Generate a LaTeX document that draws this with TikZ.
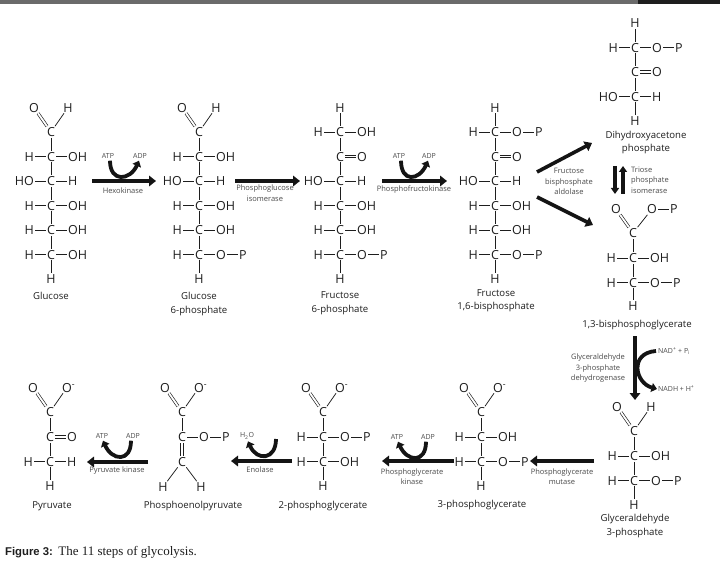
\documentclass[tikz,border=0pt]{standalone}
\usepackage{fontspec}
\setmainfont{Open Sans}
\newfontfamily\capsans{Liberation Sans}
\newfontfamily\capserif{Liberation Serif}
\usetikzlibrary{arrows.meta,calc}
\definecolor{txt}{HTML}{1E1E1E}
\definecolor{enzc}{HTML}{4A4A4A}
\definecolor{barg}{HTML}{6B6B6B}
\definecolor{bard}{HTML}{1E1E1E}
\tikzset{
 atm/.style={font=\fontsize{12.5}{14}\selectfont, text=txt, inner xsep=1.2pt, inner ysep=1pt, text height=9.2pt, text depth=0pt},
 bond/.style={line width=0.75pt, draw=txt},
 dbond/.style={double, double distance=1.8pt, line width=0.65pt, draw=txt},
 mlab/.style={font=\fontsize{9.6}{13.5}\selectfont, text=txt, align=center, inner sep=0pt},
 enz/.style={font=\fontsize{7.5}{10.5}\selectfont, text=enzc, align=center, inner sep=0pt},
 cof/.style={font=\fontsize{7}{8}\selectfont, text=enzc, inner sep=0pt},
 bigarr/.style={line width=4pt, draw=black!92, -{Triangle[length=7pt,width=10.5pt]}},
 curarr/.style={line width=3.8pt, draw=black!92, -{Triangle[length=5.5pt,width=9pt]}},
}
\newcommand\crow[5]{%
  \node[atm] (#1) at (#2,#3) {C};
  \if\relax\detokenize{#4}\relax\else
    \node[atm,anchor=east] (#1l) at ([xshift=-10.4pt]#1.west) {#4};
    \draw[bond] (#1l) -- (#1);
  \fi
  \if\relax\detokenize{#5}\relax\else
    \node[atm,anchor=west] (#1r) at ([xshift=10.4pt]#1.east) {#5};
    \draw[bond] (#1) -- (#1r);
  \fi}
\newcommand\crowP[4]{%
  \crow{#1}{#2}{#3}{#4}{O}
  \node[atm,anchor=west] (#1p) at ([xshift=10.4pt]#1r.east) {P};
  \draw[bond] (#1r) -- (#1p);}
\newcommand\crowD[3]{%
  \node[atm] (#1) at (#2,#3) {C};
  \node[atm,anchor=west] (#1r) at ([xshift=10.4pt]#1.east) {O};
  \draw[dbond] (#1) -- (#1r);}
\newcommand\topgrp[4]{%
  \node[atm] (#1) at (#2,#3) {C};
  \node[atm] (#1o) at ($(#1)+(-17,-24.5)$) {O};
  \node[atm] (#1h) at ($(#1)+(17,-24.5)$) {#4};
  \draw[dbond] (#1o) -- (#1);
  \draw[bond] (#1h) -- (#1);}
\newcommand\Om{O\rlap{\textsuperscript{-}}}
\begin{document}
\begin{tikzpicture}[x=1pt,y=-1pt]
\useasboundingbox (0,0) rectangle (720,569);
\fill[white] (0,0) rectangle (720,569);
\fill[barg] (0,0) rectangle (638,4);
\fill[bard] (638,0) rectangle (720,4);

% ---------- Glucose
\topgrp{ga}{51}{132}{H}
\crow{gb}{51}{156.5}{H}{OH}
\crow{gc}{51}{181}{HO}{H}
\crow{gd}{51}{205.5}{H}{OH}
\crow{ge}{51}{230}{H}{OH}
\crow{gf}{51}{254.5}{H}{OH}
\node[atm] (gh) at (51,279) {H};
\foreach \a/\b in {ga/gb,gb/gc,gc/gd,gd/ge,ge/gf,gf/gh} \draw[bond] (\a)--(\b);
\node[mlab] (glab) at (51,296) {Glucose};

% ---------- Glucose 6-phosphate
\topgrp{pa}{199}{132}{H}
\crow{pb}{199}{156.5}{H}{OH}
\crow{pc}{199}{181}{HO}{H}
\crow{pd}{199}{205.5}{H}{OH}
\crow{pe}{199}{230}{H}{OH}
\crowP{pf}{199}{254.5}{H}
\node[atm] (ph) at (199,279) {H};
\foreach \a/\b in {pa/pb,pb/pc,pc/pd,pd/pe,pe/pf,pf/ph} \draw[bond] (\a)--(\b);
\node[mlab] (plab) at (199,304) {Glucose\\6-phosphate};

% ---------- Fructose 6-phosphate
\node[atm] (fa) at (340,107.5) {H};
\crow{fb}{340}{132}{H}{OH}
\crowD{fc}{340}{156.5}
\crow{fd}{340}{181}{HO}{H}
\crow{fe}{340}{205.5}{H}{OH}
\crow{ff}{340}{230}{H}{OH}
\crowP{fg}{340}{254.5}{H}
\node[atm] (fh) at (340,279) {H};
\foreach \a/\b in {fa/fb,fb/fc,fc/fd,fd/fe,fe/ff,ff/fg,fg/fh} \draw[bond] (\a)--(\b);
\node[mlab] (flab) at (340,303) {Fructose\\6-phosphate};

% ---------- Fructose 1,6-bisphosphate
\node[atm] (ba) at (495,107.5) {H};
\crowP{bb}{495}{132}{H}
\crowD{bc}{495}{156.5}
\crow{bd}{495}{181}{HO}{H}
\crow{be}{495}{205.5}{H}{OH}
\crow{bf}{495}{230}{H}{OH}
\crowP{bg}{495}{254.5}{H}
\node[atm] (bh) at (495,279) {H};
\foreach \a/\b in {ba/bb,bb/bc,bc/bd,bd/be,be/bf,bf/bg,bg/bh} \draw[bond] (\a)--(\b);
\node[mlab] (blab) at (496,300.5) {Fructose\\1,6-bisphosphate};

% ---------- DHAP
\node[atm] (da) at (635,23) {H};
\crowP{db}{635}{47.5}{H}
\crowD{dc}{635}{72}
\crow{dd}{635}{96.5}{HO}{H}
\node[atm] (de) at (635,121) {H};
\foreach \a/\b in {da/db,db/dc,dc/dd,dd/de} \draw[bond] (\a)--(\b);
\node[mlab] (dlab) at (646,142.5) {Dihydroxyacetone\\phosphate};

% ---------- 1,3-bisphosphoglycerate
\node[atm] (ka) at (633,233) {C};
\node[atm] (kao) at (616,209) {O};
\node[atm] (kar) at (652,209) {O};
\node[atm,anchor=west] (kap) at ([xshift=10.4pt]kar.east) {P};
\draw[dbond] (kao) -- (ka);
\draw[bond] (kar) -- (ka);
\draw[bond] (kar) -- (kap);
\crow{kb}{633}{258}{H}{OH}
\crowP{kc}{633}{282.5}{H}
\node[atm] (kd) at (633,306) {H};
\foreach \a/\b in {ka/kb,kb/kc,kc/kd} \draw[bond] (\a)--(\b);
\node[mlab] (klab) at (637,325) {1,3-bisphosphoglycerate};

% ---------- Glyceraldehyde 3-phosphate
\topgrp{ya}{634}{431}{H}
\crow{yb}{634}{456}{H}{OH}
\crowP{yc}{634}{480.5}{H}
\node[atm] (yd) at (634,505) {H};
\foreach \a/\b in {ya/yb,yb/yc,yc/yd} \draw[bond] (\a)--(\b);
\node[mlab] (ylab) at (635,526) {Glyceraldehyde\\3-phosphate};

% ---------- 3-phosphoglycerate
\topgrp{ta}{481}{412}{\Om}
\crow{tb}{481}{437}{H}{OH}
\crowP{tc}{481}{461.5}{H}
\node[atm] (td) at (481,486) {H};
\foreach \a/\b in {ta/tb,tb/tc,tc/td} \draw[bond] (\a)--(\b);
\node[mlab] (tlab) at (482,505) {3-phosphoglycerate};

% ---------- 2-phosphoglycerate
\topgrp{sa}{323}{412}{\Om}
\crowP{sb}{323}{437}{H}
\crow{sc}{323}{461.5}{H}{OH}
\node[atm] (sd) at (323,486) {H};
\foreach \a/\b in {sa/sb,sb/sc,sc/sd} \draw[bond] (\a)--(\b);
\node[mlab] (slab) at (323,506) {2-phosphoglycerate};

% ---------- Phosphoenolpyruvate
\topgrp{ea}{182}{412}{\Om}
\crowP{eb}{182}{437}{}
\node[atm] (ec) at (182,461.5) {C};
\node[atm] (ed) at (163,487) {H};
\node[atm] (ee) at (201,487) {H};
\draw[bond] (ea)--(eb);
\draw[dbond] (eb)--(ec);
\draw[bond] (ec)--(ed);
\draw[bond] (ec)--(ee);
\node[mlab] (elab) at (193,506) {Phosphoenolpyruvate};

% ---------- Pyruvate
\topgrp{ua}{50}{412}{\Om}
\crowD{ub}{50}{437}
\crow{uc}{50}{461.5}{H}{H}
\node[atm] (ud) at (50,486) {H};
\foreach \a/\b in {ua/ub,ub/uc,uc/ud} \draw[bond] (\a)--(\b);
\node[mlab] (ulab) at (52,506) {Pyruvate};

% ---------- Step arrows
% Hexokinase
\coordinate (hk1) at (92,181); \coordinate (hk2) at (156,181);
\draw[bigarr] (hk1) -- (hk2);
\node[cof] (hkatp) at (108,156) {ATP};
\node[cof] (hkadp) at (140,156) {ADP};
\draw[curarr] ([xshift=2pt,yshift=-2pt]hkatp.south) .. controls +(0,22) and +(-9,20) .. ([xshift=-1pt,yshift=-2pt]hkadp.south);
\node[enz] (hkl) at (123,190.5) {Hexokinase};
% Phosphoglucose isomerase
\coordinate (pgi1) at (235,181); \coordinate (pgi2) at (300,181);
\draw[bigarr] (pgi1) -- (pgi2);
\node[enz] (pgil) at (265,193) {Phosphoglucose\\isomerase};
% Phosphofructokinase
\coordinate (pfk1) at (382,181); \coordinate (pfk2) at (447,181);
\draw[bigarr] (pfk1) -- (pfk2);
\node[cof] (pfkatp) at (399,156) {ATP};
\node[cof] (pfkadp) at (429,156) {ADP};
\draw[curarr] ([xshift=2pt,yshift=-2pt]pfkatp.south) .. controls +(0,22) and +(-9,20) .. ([xshift=-1pt,yshift=-2pt]pfkadp.south);
\node[enz] (pfkl) at (414,189.5) {Phosphofructokinase};
% Aldolase
\coordinate (al1) at (537,172); \coordinate (al2) at (592,143);
\coordinate (al3) at (537,197); \coordinate (al4) at (593,225);
\draw[bigarr,line width=3.6pt] (al1) -- (al2);
\draw[bigarr,line width=3.6pt] (al3) -- (al4);
\node[enz] (all) at (569,181.5) {Fructose\\bisphosphate\\aldolase};
% Triose phosphate isomerase
\coordinate (tp1) at (615,166); \coordinate (tp2) at (615,194);
\coordinate (tp3) at (623,194); \coordinate (tp4) at (623,166);
\draw[bigarr,line width=3.6pt,-{Triangle[length=6pt,width=8pt]}] (tp1) -- (tp2);
\draw[bigarr,line width=3.6pt,-{Triangle[length=6pt,width=8pt]}] (tp3) -- (tp4);
\node[enz,anchor=west,align=left] (tpl) at (631,180) {Triose\\phosphate\\isomerase};
% GAPDH
\coordinate (gd1) at (635,336); \coordinate (gd2) at (635,400);
\draw[bigarr] (gd1) -- (gd2);
\node[cof,anchor=west] (nad) at (658,351) {NAD\textsuperscript{+} + P\textsubscript{i}};
\node[cof,anchor=west] (nadh) at (658,389) {NADH + H\textsuperscript{+}};
\draw[curarr] ([xshift=-2pt]nad.west) .. controls +(-27,2) and +(-22,-6) .. ([xshift=-1pt]nadh.west);
\node[enz] (gdl) at (598,368.5) {Glyceraldehyde\\3-phosphate\\dehydrogenase};
% Phosphoglycerate mutase
\coordinate (pm1) at (594,461); \coordinate (pm2) at (530,461);
\draw[bigarr] (pm1) -- (pm2);
\node[enz] (pml) at (562,476.5) {Phosphoglycerate\\mutase};
% Phosphoglycerate kinase
\coordinate (pk1) at (454,461); \coordinate (pk2) at (382,461);
\draw[bigarr] (pk1) -- (pk2);
\node[cof] (pkatp) at (397,437) {ATP};
\node[cof] (pkadp) at (428,437) {ADP};
\draw[curarr] ([xshift=-2pt,yshift=-2pt]pkadp.south) .. controls +(0,22) and +(9,20) .. ([xshift=1pt,yshift=-2pt]pkatp.south);
\node[enz] (pkl) at (412,476.5) {Phosphoglycerate\\kinase};
% Enolase
\coordinate (en1) at (292,461); \coordinate (en2) at (231,461);
\draw[bigarr] (en1) -- (en2);
\node[cof] (h2o) at (247,436) {H\textsubscript{2}O};
\coordinate (enS) at (276,439);
\draw[curarr] (enS) .. controls +(0,21) and +(9,20) .. ([xshift=1pt,yshift=-2pt]h2o.south);
\node[enz] (enl) at (260,470) {Enolase};
% Pyruvate kinase
\coordinate (yk1) at (148,462); \coordinate (yk2) at (87,462);
\draw[bigarr] (yk1) -- (yk2);
\node[cof] (ykatp) at (102,436) {ATP};
\node[cof] (ykadp) at (133,436) {ADP};
\draw[curarr] ([xshift=-2pt,yshift=-2pt]ykadp.south) .. controls +(0,22) and +(9,20) .. ([xshift=1pt,yshift=-2pt]ykatp.south);
\node[enz] (ykl) at (117,470.5) {Pyruvate kinase};

% ---------- Caption
\node[anchor=base west, inner sep=0, font=\capsans\bfseries\fontsize{11.3}{13}\selectfont, text=txt] (fig) at (5,555) {Figure 3:};
\node[anchor=base west, inner sep=0, font=\capserif\fontsize{13}{15}\selectfont, text=txt] (cap) at ([xshift=5pt]fig.base east) {The 11 steps of glycolysis.};
\end{tikzpicture}
\end{document}
